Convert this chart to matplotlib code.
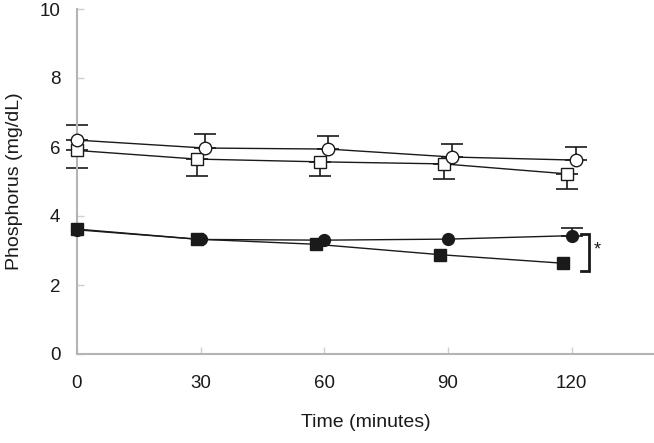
import matplotlib
matplotlib.use("Agg")
import matplotlib.pyplot as plt

plt.rcParams["font.family"] = ["Liberation Sans", "DejaVu Sans"]

# open circles
t_open_circ = [0, 31, 61, 91, 121]
y_open_circ = [6.20, 5.97, 5.94, 5.71, 5.62]
err_open_circ = [0.44, 0.41, 0.38, 0.38, 0.38]

# open squares
t_open_sq = [0, 29, 59, 89, 119]
y_open_sq = [5.90, 5.65, 5.57, 5.51, 5.22]
err_open_sq = [0.52, 0.49, 0.41, 0.44, 0.44]

# filled circles (error bars hidden behind markers except the last one)
t_fill_circ = [0, 30, 60, 90, 120]
y_fill_circ = [3.60, 3.32, 3.30, 3.33, 3.43]
err_fill_circ = [0, 0, 0, 0, 0.22]

# filled squares
t_fill_sq = [0, 29, 58, 88, 118]
y_fill_sq = [3.62, 3.33, 3.18, 2.88, 2.63]

x_ticks = [0, 30, 60, 90, 120]
y_ticks = [0, 2, 4, 6, 8, 10]

fig = plt.figure(figsize=(6.54, 4.43), dpi=100)
ax = fig.add_axes([77 / 654, 1 - 354 / 443, 1 - 77 / 654, 345 / 443])

ms = 8.5
lw = 1.0
cap = 8
ink = "#1a1a1a"


def one_sided(t, y, err, upper):
    pts = [(a, b, e) for a, b, e in zip(t, y, err) if e > 0]
    if not pts:
        return
    tt, yy, ee = zip(*pts)
    zeros = [0] * len(ee)
    yerr = [zeros, list(ee)] if upper else [list(ee), zeros]
    bars = ax.errorbar(tt, yy, yerr=yerr, fmt="none", ecolor=ink, elinewidth=1.2,
                       capsize=cap, capthick=1.2, zorder=2)
    for artist in bars.get_children():
        artist.set_clip_on(False)


one_sided(t_open_circ, y_open_circ, err_open_circ, upper=True)
one_sided(t_open_sq, y_open_sq, err_open_sq, upper=False)
one_sided(t_fill_circ, y_fill_circ, err_fill_circ, upper=True)

ax.plot(t_open_sq, y_open_sq, "-s", color=ink, mfc="white", mec=ink,
        ms=ms, lw=lw, mew=1.0, zorder=3, clip_on=False)
ax.plot(t_open_circ, y_open_circ, "-o", color=ink, mfc="white", mec=ink,
        ms=ms + 0.5, lw=lw, mew=1.0, zorder=4, clip_on=False)
ax.plot(t_fill_sq, y_fill_sq, "-s", color=ink, mfc=ink, mec=ink,
        ms=ms, lw=lw, zorder=3, clip_on=False)
ax.plot(t_fill_circ, y_fill_circ, "-o", color=ink, mfc=ink, mec=ink,
        ms=ms, lw=lw, zorder=4, clip_on=False)

# significance bracket
ax.plot([122.2, 124.3, 124.3, 122.2], [3.48, 3.48, 2.42, 2.42], color=ink,
        lw=2.0, solid_joinstyle="miter", clip_on=False)
ax.text(125.4, 3.02, "*", fontsize=13, ha="left", va="center", color=ink)

ax.set_xlim(0, 140)
ax.set_ylim(0, 10)
ax.set_xticks(x_ticks)
ax.set_yticks(y_ticks)

for side in ["top", "right"]:
    ax.spines[side].set_visible(False)
for side in ["left", "bottom"]:
    ax.spines[side].set_color("#b4b4b4")
    ax.spines[side].set_linewidth(1.5)

ax.tick_params(axis="both", direction="in", color="#d0d0d0", length=5, width=1,
               labelsize=13.5, labelcolor=ink)
ax.tick_params(axis="x", pad=15)
ax.tick_params(axis="y", pad=12)

ax.set_xlabel("Time (minutes)", fontsize=14, color=ink, labelpad=16)
ax.set_ylabel("Phosphorus (mg/dL)", fontsize=14, color=ink, labelpad=12)

fig.savefig("out.png", dpi=100)
